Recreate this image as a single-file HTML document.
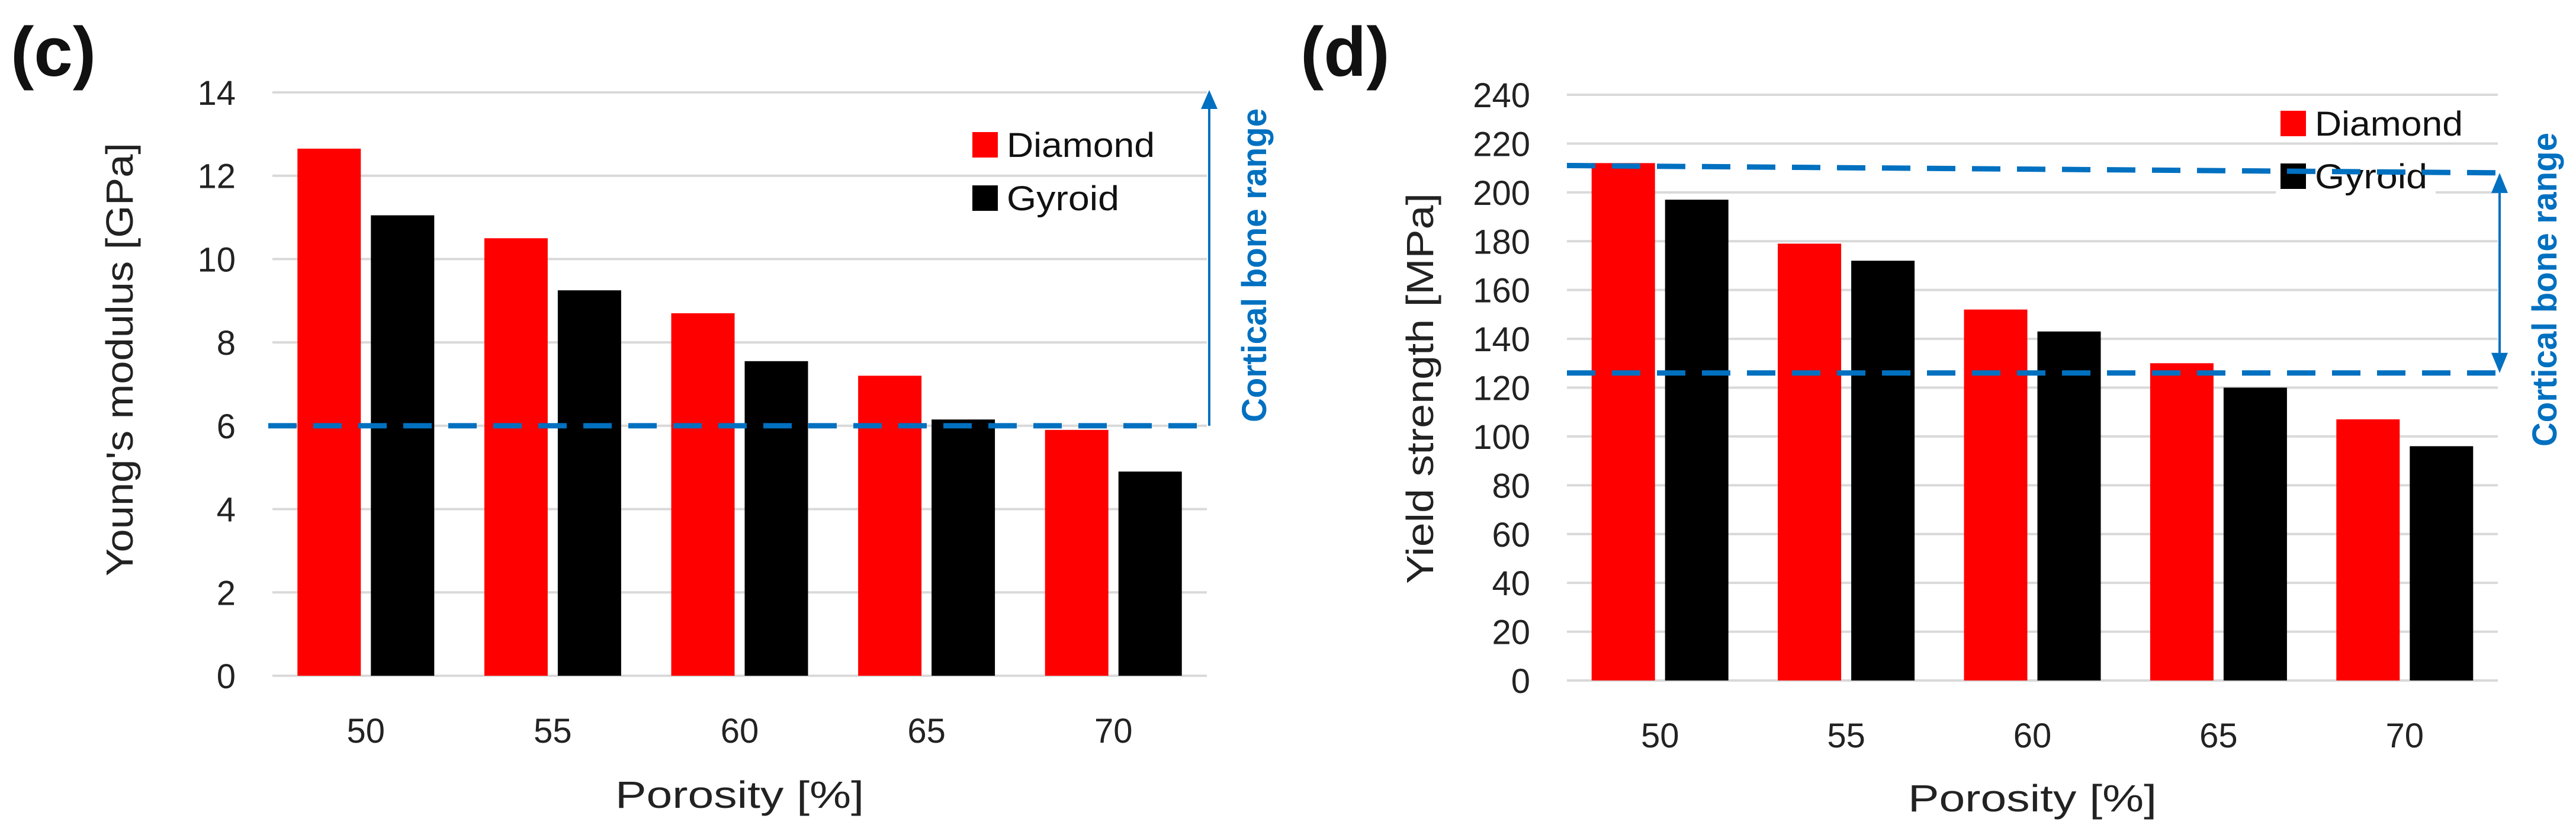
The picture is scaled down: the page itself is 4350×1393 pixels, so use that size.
<!DOCTYPE html>
<html><head><meta charset="utf-8"><style>
html,body{margin:0;padding:0;background:#fff;}
svg{display:block;font-family:"Liberation Sans",sans-serif;}
</style></head><body>
<svg id="fig" width="4350" height="1393" viewBox="0 0 4350 1393" xmlns="http://www.w3.org/2000/svg">
<rect width="4350" height="1393" fill="#fff"/>
<g id="chartC"></g>
<g id="chartD"></g>
</svg>
<script>
const categories = ["50","55","60","65","70"];
const modulusDiamond = [12.65, 10.5, 8.7, 7.2, 5.9];
const modulusGyroid = [11.05, 9.25, 7.55, 6.15, 4.9];
const modulusTicks = [0,2,4,6,8,10,12,14];
const modulusBone = [6, 6];
const strengthDiamond = [212, 179, 152, 130, 107];
const strengthGyroid = [197, 172, 143, 120, 96];
const strengthTicks = [0,20,40,60,80,100,120,140,160,180,200,220,240];
const strengthBoneHigh = [211, 208];
const strengthBoneLow = [126, 126];

const NS = "http://www.w3.org/2000/svg";
function mk(parent, tag, attrs, text){
  const e = document.createElementNS(NS, tag);
  for (const k in attrs) e.setAttribute(k, attrs[k]);
  if (text !== undefined) e.textContent = text;
  parent.appendChild(e);
  return e;
}
const BLUE = "#0070C0";

function drawChart(g, o){
  const yMax = o.ticks[o.ticks.length-1];
  const ys = v => o.y0 - (v / yMax) * (o.y0 - o.yTop);
  const cw = (o.x1 - o.x0) / categories.length;
  o.ticks.forEach(t => {
    const gl = mk(g, "line", {x1:o.x0, x2:o.x1, y1:ys(t), y2:ys(t), stroke:"#d9d9d9", "stroke-width":4});
    
    
    const tl = mk(g, "text", {x:o.x0-62, y:ys(t)+21, "text-anchor":"end", "font-size":58, fill:"#222"}, String(t));
    
    
  });
  categories.forEach((c, i) => {
    const cx = o.x0 + cw*(i+0.5);
    const bw = 107, gap = 17;
    const r = mk(g, "rect", {x:cx-gap/2-bw, y:ys(o.d[i]), width:bw, height:o.y0-ys(o.d[i]), fill:"#ff0000"});
    
    
    const b = mk(g, "rect", {x:cx+gap/2, y:ys(o.gy[i]), width:bw, height:o.y0-ys(o.gy[i]), fill:"#000"});
    
    
    const xl = mk(g, "text", {x:cx, y:o.xLabY, "text-anchor":"middle", "font-size":58, fill:"#222"}, c);
    
    
  });
  const xt = mk(g, "text", {x:(o.x0+o.x1)/2, y:o.xTitleY, "text-anchor":"middle", "font-size":64, fill:"#222", textLength:420, lengthAdjust:"spacingAndGlyphs"}, "Porosity [%]");
  
  
  const yt = mk(g, "text", {x:0, y:0, "text-anchor":"middle", "font-size":64, fill:"#222", textLength:o.yTitleLen, lengthAdjust:"spacingAndGlyphs", transform:`translate(${o.yTitleX},${o.yTitleY}) rotate(-90)`}, o.yTitle);
  
  
  const lg = mk(g, "g", {});
  
  
  return {ys, lg};
}

function legend(lg, x, yD, yG, withBg){
  if (withBg) mk(lg, "rect", {x:x-8, y:yG-10, width:270, height:64, fill:"#fff"});
  const a = mk(lg, "rect", {x:x, y:yD, width:43, height:43, fill:"#ff0000"});
  
  
  const at = mk(lg, "text", {x:x+58, y:yD+42, "font-size":58, fill:"#111", textLength:250, lengthAdjust:"spacingAndGlyphs"}, "Diamond");
  
  
  const b = mk(lg, "rect", {x:x, y:yG, width:43, height:43, fill:"#000"});
  
  
  const bt = mk(lg, "text", {x:x+58, y:yG+42, "font-size":58, fill:"#111", textLength:190, lengthAdjust:"spacingAndGlyphs"}, "Gyroid");
  
  
}

function panelLabel(g, x, txt){
  const t = mk(g, "text", {x:x, y:128, "font-size":118, "font-weight":"bold", fill:"#111"}, txt);
  
  
}
function boneText(g, cx, cy, len){
  const t = mk(g, "text", {x:0, y:0, "text-anchor":"middle", "font-size":58, "font-weight":"bold", fill:BLUE, textLength:len, lengthAdjust:"spacingAndGlyphs", transform:`translate(${cx},${cy}) rotate(-90)`}, "Cortical bone range");
  
  
}

const gC = document.getElementById("chartC");
panelLabel(gC, 18, "(c)");
const c = drawChart(gC, {x0:460, x1:2038, y0:1141, yTop:156, ticks:modulusTicks, d:modulusDiamond, gy:modulusGyroid,
  xLabY:1254, xTitleY:1364, yTitle:"Young's modulus [GPa]", yTitleX:224, yTitleY:607, yTitleLen:732});
legend(c.lg, 1642, 223, 313, false);
const dC = mk(gC, "line", {x1:453, x2:2042, y1:c.ys(modulusBone[0]), y2:c.ys(modulusBone[1]), stroke:BLUE, "stroke-width":9, "stroke-dasharray":"48 28"});


const aC = mk(gC, "line", {x1:2042, x2:2042, y1:c.ys(modulusBone[0]), y2:180, stroke:BLUE, "stroke-width":4});


mk(gC, "polygon", {points:"2028,184 2056,184 2042,152", fill:BLUE});
boneText(gC, 2138, 448, 530);

const gD = document.getElementById("chartD");
panelLabel(gD, 2196, "(d)");
const d = drawChart(gD, {x0:2646, x1:4218, y0:1149, yTop:160, ticks:strengthTicks, d:strengthDiamond, gy:strengthGyroid,
  xLabY:1262, xTitleY:1370, yTitle:"Yield strength [MPa]", yTitleX:2420, yTitleY:656, yTitleLen:660});
const hi = mk(gD, "line", {x1:2646, x2:4222, y1:d.ys(strengthBoneHigh[0]), y2:d.ys(strengthBoneHigh[1]), stroke:BLUE, "stroke-width":9, "stroke-dasharray":"48 28"});


const lo = mk(gD, "line", {x1:2646, x2:4232, y1:d.ys(strengthBoneLow[0]), y2:d.ys(strengthBoneLow[1]), stroke:BLUE, "stroke-width":9, "stroke-dasharray":"48 28"});


legend(d.lg, 3851, 187, 276, true);
const yH = d.ys(strengthBoneHigh[1]), yL = d.ys(strengthBoneLow[1]);
const aD = mk(gD, "line", {x1:4221, x2:4221, y1:yH+30, y2:yL-30, stroke:BLUE, "stroke-width":4});


mk(gD, "polygon", {points:`4207,${yH+34} 4235,${yH+34} 4221,${yH}`, fill:BLUE});
mk(gD, "polygon", {points:`4207,${yL-34} 4235,${yL-34} 4221,${yL}`, fill:BLUE});
boneText(gD, 4317, 489, 530);
</script>
</body></html>
